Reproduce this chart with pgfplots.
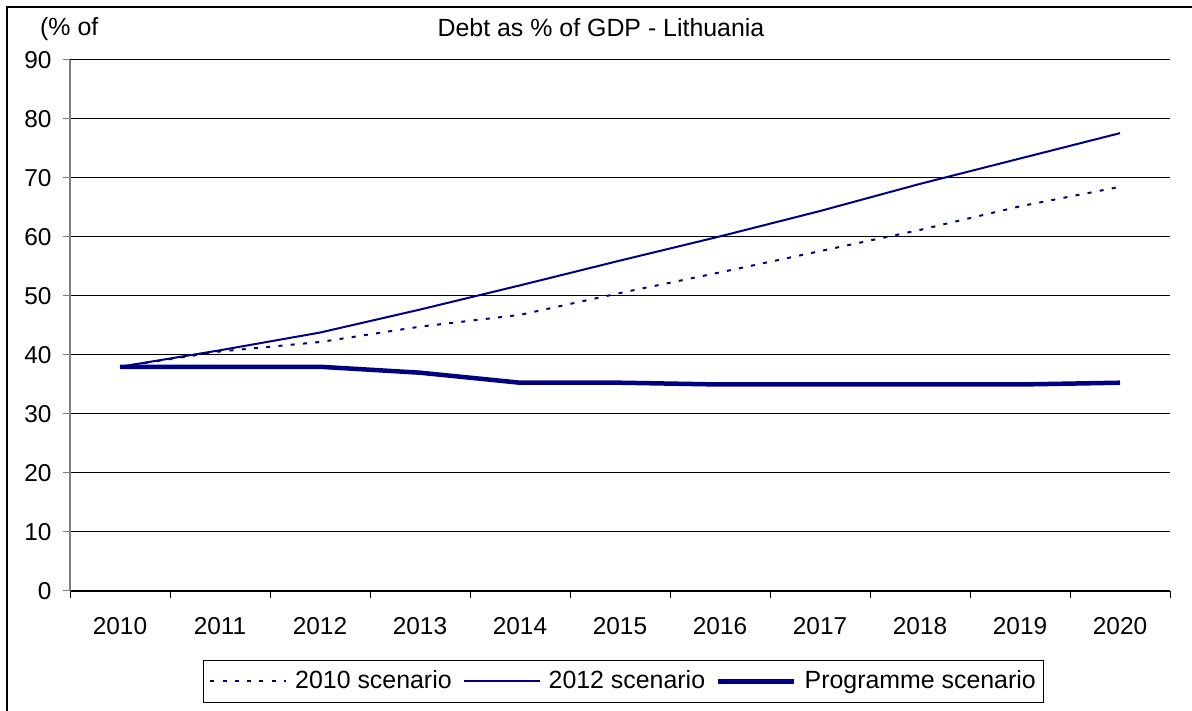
\documentclass[border=0pt]{standalone}
\usepackage{pgfplots}
\pgfplotsset{compat=1.18}
\usepackage{fontspec}
\setmainfont{Liberation Sans}
\definecolor{navy}{RGB}{0,0,128}
\pgfplotstableread{
x a b c
0 38.0 38.0 38.0
1 40.6 40.8 38.0
2 42.2 43.8 38.0
3 44.8 47.7 37.0
4 46.8 51.8 35.3
5 50.5 56.0 35.3
6 54.0 60.1 35.0
7 57.6 64.4 35.0
8 61.2 69.0 35.0
9 65.2 73.3 35.0
10 68.5 77.6 35.3
}\debt
\begin{document}
\begin{tikzpicture}[x=1bp,y=1bp]
\path[use as bounding box] (0,0) rectangle (1192,711);
\draw[line width=1.1bp] (7,0) -- (7,704) -- (1192,704);
\fontsize{25}{29}\selectfont
\node[anchor=base west,inner sep=0] at (40,675) {(\% of};
\node[anchor=base,inner sep=0] at (601,674) {Debt as \% of GDP - Lithuania};
\begin{axis}[
  at={(70bp,120bp)}, anchor=south west,
  scale only axis, width=1100bp, height=531bp,
  xmin=-0.5, xmax=10.5, ymin=0, ymax=90,
  axis x line=bottom, axis y line=left,
  axis line style={-},
  x axis line style={black, line width=1.2bp},
  y axis line style={gray, line width=1.5bp},
  xtick={0,...,10},
  xticklabels={2010,2011,2012,2013,2014,2015,2016,2017,2018,2019,2020},
  major x tick style={draw=none},
  minor xtick={-0.5,0.5,...,10.5},
  minor x tick style={black, line width=1bp},
  minor tick length=7bp,
  ytick={0,10,...,90},
  major tick length=7bp,
  major y tick style={gray, line width=1bp},
  tick align=outside,
  ymajorgrids,
  major grid style={black, line width=1bp},
  /pgf/number format/assume math mode=true,
  ticklabel style={font=\fontsize{24.5}{28}\selectfont},
  xticklabel style={yshift=-11bp},
  yticklabel style={xshift=-3bp},
  legend columns=3,
  legend style={at={(0.5032,-0.13)}, anchor=north, draw=black, line width=1bp,
    font=\fontsize{25}{29}\selectfont, inner xsep=6bp, inner ysep=8bp,
    /tikz/every odd column/.append style={column sep=6bp},
    /tikz/every even column/.append style={column sep=9bp}},
  legend image code/.code={\draw[#1] (0bp,0bp) -- (76bp,0bp);},
  legend cell align=left,
]
\addplot[navy, line width=2bp, dash pattern=on 4bp off 8.3bp] table[x=x,y=a] {\debt};
\addlegendentry{2010 scenario}
\addplot[navy, line width=2bp] table[x=x,y=b] {\debt};
\addlegendentry{2012 scenario}
\addplot[navy, line width=4.5bp] table[x=x,y=c] {\debt};
\addlegendentry{Programme scenario}
\end{axis}
\end{tikzpicture}
\end{document}
